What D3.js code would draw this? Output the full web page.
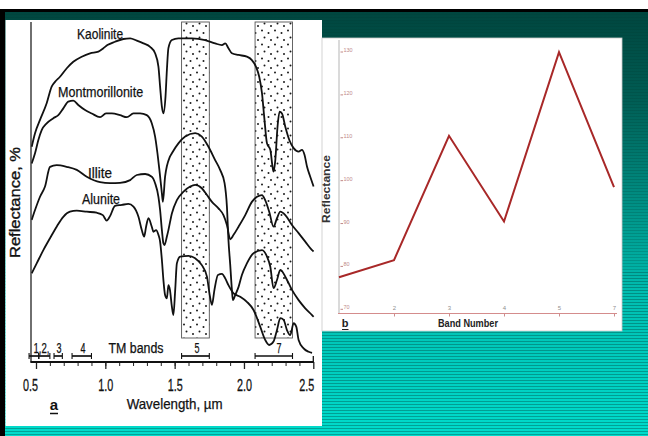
<!DOCTYPE html>
<html>
<head>
<meta charset="utf-8">
<script src="https://cdn.jsdelivr.net/npm/d3@7"></script>
<style>
html, body { margin: 0; padding: 0; background: #fff; }
svg { display: block; }
</style>
</head>
<body>
<div id="chart"></div>
<script>
// spectra: [wavelength in um, relative reflectance]
const kaolinite = [
  [0.469, 63.3], [0.493, 67.3], [0.529, 71.2], [0.577, 76.1], [0.613, 81.0], [0.637, 82.4],
  [0.673, 83.9], [0.722, 86.4], [0.769, 88.3], [0.830, 89.8], [0.890, 90.8], [0.950, 91.3],
  [0.986, 92.3], [1.015, 93.2], [1.070, 94.2], [1.130, 95.0], [1.179, 95.2], [1.227, 94.5],
  [1.275, 93.7], [1.323, 92.7], [1.359, 90.8], [1.383, 86.9], [1.395, 81.0], [1.408, 75.1],
  [1.419, 73.1], [1.434, 78.0], [1.444, 85.9], [1.455, 92.3], [1.480, 94.7], [1.527, 95.2],
  [1.624, 95.2], [1.720, 94.7], [1.792, 93.7], [1.841, 93.2], [1.865, 93.7], [1.888, 92.3],
  [1.913, 90.8], [1.961, 90.3], [2.021, 89.8], [2.057, 88.8], [2.086, 86.9], [2.110, 83.9],
  [2.130, 79.0], [2.146, 72.1], [2.166, 64.3], [2.190, 62.4], [2.206, 57.4], [2.213, 56.0],
  [2.226, 59.4], [2.242, 69.2], [2.257, 73.6], [2.274, 73.1], [2.298, 69.2], [2.327, 65.3],
  [2.358, 62.9], [2.394, 61.9], [2.418, 62.4], [2.437, 60.9], [2.455, 57.4], [2.478, 54.5],
  [2.502, 51.6]
];
const montmorillonite = [
  [0.469, 58.4], [0.493, 61.4], [0.517, 65.3], [0.541, 68.2], [0.577, 70.2], [0.625, 71.7],
  [0.661, 72.6], [0.697, 74.6], [0.733, 76.6], [0.769, 76.9], [0.805, 75.6], [0.854, 74.1],
  [0.902, 73.1], [0.962, 72.0], [1.005, 73.1], [1.047, 73.1], [1.106, 72.6], [1.155, 72.0],
  [1.203, 73.1], [1.251, 73.1], [1.299, 72.6], [1.335, 70.2], [1.359, 66.3], [1.376, 61.4],
  [1.390, 56.5], [1.408, 49.6], [1.415, 47.1], [1.431, 54.5], [1.466, 60.4], [1.480, 61.4],
  [1.527, 64.3], [1.576, 66.3], [1.648, 67.3], [1.696, 66.3], [1.744, 63.3], [1.792, 59.4],
  [1.828, 56.5], [1.860, 52.6], [1.877, 45.7], [1.888, 35.9], [1.901, 28.5], [1.913, 21.2],
  [1.920, 18.2], [1.937, 19.7], [1.961, 22.1], [1.985, 25.6], [2.021, 29.0], [2.069, 32.0],
  [2.130, 32.9], [2.166, 31.0], [2.190, 28.0], [2.213, 21.7], [2.238, 24.1], [2.262, 27.1],
  [2.298, 25.1], [2.346, 21.2], [2.394, 18.2], [2.442, 15.8], [2.491, 13.8], [2.502, 13.3]
];
const illite = [
  [0.469, 41.8], [0.493, 44.7], [0.529, 48.6], [0.565, 51.6], [0.601, 57.4], [0.649, 57.9],
  [0.722, 57.4], [0.794, 56.5], [0.866, 54.5], [0.962, 52.9], [1.034, 52.6], [1.106, 52.7],
  [1.179, 53.5], [1.227, 55.0], [1.287, 55.3], [1.335, 54.5], [1.359, 52.6], [1.383, 48.6],
  [1.395, 44.7], [1.408, 38.8], [1.419, 34.9], [1.427, 34.4], [1.444, 36.9], [1.455, 38.8],
  [1.480, 43.7], [1.516, 47.6], [1.564, 50.1], [1.612, 51.6], [1.648, 52.1], [1.696, 51.1],
  [1.733, 49.1], [1.769, 47.1], [1.816, 45.2], [1.852, 43.2], [1.877, 40.3], [1.901, 36.1],
  [1.925, 37.4], [1.961, 39.8], [2.009, 43.2], [2.057, 47.1], [2.094, 48.6], [2.130, 49.1],
  [2.153, 47.6], [2.182, 44.2], [2.213, 39.8], [2.238, 42.3], [2.262, 44.2], [2.298, 43.2],
  [2.346, 40.3], [2.394, 37.9], [2.442, 35.4], [2.491, 32.9], [2.502, 32.5]
];
const alunite = [
  [0.469, 26.1], [0.505, 29.0], [0.553, 32.9], [0.601, 36.4], [0.649, 39.8], [0.697, 42.7],
  [0.745, 44.2], [0.794, 44.5], [0.866, 44.2], [0.938, 43.9], [0.982, 43.2], [1.010, 41.6],
  [1.034, 42.9], [1.070, 45.9], [1.119, 46.2], [1.166, 46.5], [1.203, 45.7], [1.239, 42.7],
  [1.263, 38.8], [1.280, 36.9], [1.294, 39.8], [1.311, 42.3], [1.335, 39.8], [1.347, 38.3],
  [1.366, 38.8], [1.383, 37.4], [1.395, 35.4], [1.408, 30.0], [1.419, 24.1], [1.431, 19.7],
  [1.444, 18.7], [1.455, 22.6], [1.466, 21.2], [1.480, 16.3], [1.491, 13.8], [1.504, 21.2],
  [1.516, 29.0], [1.540, 31.0], [1.600, 31.2], [1.648, 30.5], [1.696, 28.5], [1.733, 25.1],
  [1.751, 20.2], [1.769, 16.8], [1.787, 21.2], [1.812, 25.6], [1.841, 25.9], [1.865, 24.6],
  [1.888, 22.6], [1.925, 20.2], [1.973, 19.2], [2.021, 17.7], [2.069, 15.3], [2.117, 10.4],
  [2.153, 6.5], [2.182, 5.0], [2.213, 6.0], [2.238, 9.4], [2.262, 12.9], [2.286, 12.4],
  [2.310, 9.4], [2.334, 7.9], [2.358, 11.4], [2.377, 10.4], [2.394, 6.5], [2.430, 4.0],
  [2.466, 3.0], [2.491, 2.7]
];
const mineralNames = ["Kaolinite", "Montmorillonite", "Illite", "Alunite"];

// Landsat TM bands (um)
const tmBands = [[0.45, 0.52], [0.52, 0.60], [0.63, 0.69], [0.76, 0.90], [1.55, 1.75], [2.08, 2.35]];
const tmLabels = ["1,2,", "3", "4", "TM bands", "5", "7"];
const wlTicks = [0.5, 1.0, 1.5, 2.0, 2.5];

// right chart: reflectance per band
const bandNames = ["1", "2", "3", "4", "5", "7"];
const bandReflectance = [77, 81, 110, 90, 129.5, 98];
const reflTicks = [70, 80, 90, 100, 110, 120, 130];

const W = 648, H = 436;
const font = "'Liberation Sans', Arial, sans-serif";
const svg = d3.select("#chart").append("svg")
  .attr("width", W).attr("height", H)
  .style("font-family", font);

// ---- slide background ----
const defs = svg.append("defs");
const grad = defs.append("linearGradient").attr("id", "bg")
  .attr("x1", 0).attr("y1", 0).attr("x2", 0).attr("y2", 1);
[[0, "#00463f"], [0.2, "#005c53"], [0.45, "#008f84"], [0.66, "#00bdb0"], [1, "#00dccc"]]
  .forEach(s => grad.append("stop").attr("offset", s[0]).attr("stop-color", s[1]));

svg.append("rect").attr("width", W).attr("height", H).attr("fill", "#fff");
svg.append("rect").attr("x", 0).attr("y", 12).attr("width", W).attr("height", H - 12).attr("fill", "url(#bg)");
svg.append("g").selectAll("line")
  .data(d3.range(14, H, 3))
  .join("line")
  .attr("x1", 0).attr("x2", W)
  .attr("y1", d => d + 0.5).attr("y2", d => d + 0.5)
  .attr("stroke", "#003a34").attr("stroke-opacity", d => d > 270 ? 0.35 : 0.2);
svg.append("rect").attr("x", 0).attr("y", 9).attr("width", W).attr("height", 3).attr("fill", "#000");
svg.append("rect").attr("x", 0).attr("y", 9).attr("width", 5).attr("height", H - 9).attr("fill", "#000");

// ---- left panel: spectra ----
svg.append("rect").attr("x", 5.5).attr("y", 20).attr("width", 316.5).attr("height", 406).attr("fill", "#fff");

const xS = d3.scaleLinear().domain([0.5, 2.5]).range([36, 313.3]);
const yS = d3.scaleLinear().domain([0, 100]).range([362, 22]);

// stipple for bands 5 and 7
const pat = defs.append("pattern").attr("id", "dots")
  .attr("patternUnits", "userSpaceOnUse").attr("width", 13).attr("height", 14);
[[2, 2.5], [8.5, 5], [4.5, 9.5], [11, 12]].forEach(p =>
  pat.append("circle").attr("cx", p[0]).attr("cy", p[1]).attr("r", 1.0).attr("fill", "#1a1a1a"));

const stippled = [tmBands[4], tmBands[5]];
svg.append("g").selectAll("rect")
  .data(stippled)
  .join("rect")
  .attr("x", d => xS(d[0])).attr("width", d => xS(d[1]) - xS(d[0]))
  .attr("y", 22).attr("height", 316)
  .attr("fill", "url(#dots)")
  .attr("stroke", "#555").attr("stroke-width", 0.9);

const line = d3.line().x(d => xS(d[0])).y(d => yS(d[1])).curve(d3.curveMonotoneX);
svg.append("g").selectAll("path")
  .data([kaolinite, montmorillonite, illite, alunite])
  .join("path")
  .attr("d", line)
  .attr("fill", "none").attr("stroke", "#111").attr("stroke-width", 1.8)
  .attr("stroke-linejoin", "round");

// mineral names
const nameSpots = [[0.962, 95.0, 46], [0.966, 77.9, 85], [0.962, 54.1, 24], [0.969, 46.5, 38]];
svg.append("g").selectAll("text")
  .data(mineralNames)
  .join("text")
  .attr("x", (d, i) => xS(nameSpots[i][0]))
  .attr("y", (d, i) => yS(nameSpots[i][1]))
  .attr("text-anchor", "middle")
  .attr("font-size", 14)
  .attr("textLength", (d, i) => nameSpots[i][2])
  .attr("lengthAdjust", "spacingAndGlyphs")
  .attr("fill", "#111").attr("stroke", "#111").attr("stroke-width", 0.25)
  .text(d => d);

// frame axes
svg.append("line").attr("x1", 31).attr("x2", 31).attr("y1", 22).attr("y2", 362.5)
  .attr("stroke", "#222").attr("stroke-width", 1.3);

const axMinor = d3.axisBottom(xS)
  .tickValues(d3.range(6, 25).map(v => v / 10))
  .tickSize(4).tickFormat("");
svg.append("g").attr("transform", "translate(0,362)").call(axMinor)
  .call(g => g.select(".domain").remove())
  .call(g => g.selectAll("line").attr("stroke", "#222").attr("stroke-width", 1));

const axMajor = d3.axisBottom(xS)
  .tickValues(wlTicks).tickSize(7).tickPadding(10)
  .tickFormat(d3.format(".1f"));
svg.append("g").attr("transform", "translate(0,362)").call(axMajor)
  .call(g => g.select(".domain").remove())
  .call(g => g.selectAll("line").attr("stroke", "#222").attr("stroke-width", 1.3))
  .call(g => g.selectAll("text")
    .attr("font-size", 16.5).attr("fill", "#111").attr("stroke", "#111").attr("stroke-width", 0.3)
    .attr("font-family", font)
    .attr("textLength", 15).attr("lengthAdjust", "spacingAndGlyphs")
    .attr("dx", d => d === 0.5 ? -6 : d === 2.5 ? -7 : 0));
svg.append("line").attr("x1", 30.5).attr("x2", 313.8).attr("y1", 362).attr("y2", 362)
  .attr("stroke", "#111").attr("stroke-width", 1.8);
svg.append("line").attr("x1", xS(2.5)).attr("x2", xS(2.5)).attr("y1", 356).attr("y2", 362)
  .attr("stroke", "#111").attr("stroke-width", 1.3);

// TM band bars
const barY = 356;
const barG = svg.append("g").attr("stroke", "#111").attr("stroke-width", 1.7);
const bars = [[tmBands[0][0], tmBands[1][1]], tmBands[2], tmBands[3], tmBands[4], tmBands[5]];
barG.selectAll("line.bar").data(bars).join("line").attr("class", "bar")
  .attr("x1", d => xS(d[0])).attr("x2", d => xS(d[1]))
  .attr("y1", barY).attr("y2", barY);
barG.selectAll("line.cap").data(tmBands.flat()).join("line").attr("class", "cap")
  .attr("x1", d => xS(d)).attr("x2", d => xS(d))
  .attr("y1", barY - 3).attr("y2", barY + 3).attr("stroke-width", 1.1);

const tmLabelAt = [0.540, 0.666, 0.839, 1.221, 1.661, 2.253];
const tmLabelW = [16, 5, 5, 55, 5, 5];
svg.append("g").selectAll("text")
  .data(tmLabels)
  .join("text")
  .attr("x", (d, i) => xS(tmLabelAt[i]))
  .attr("y", 353)
  .attr("text-anchor", "middle")
  .attr("font-size", 14)
  .attr("textLength", (d, i) => tmLabelW[i])
  .attr("lengthAdjust", "spacingAndGlyphs")
  .attr("fill", "#111").attr("stroke", "#111").attr("stroke-width", 0.25)
  .text(d => d);

// axis titles
svg.append("text")
  .attr("x", xS(1.5)).attr("y", 409)
  .attr("text-anchor", "middle").attr("font-size", 14.5)
  .attr("textLength", 96).attr("lengthAdjust", "spacingAndGlyphs")
  .attr("fill", "#111").attr("stroke", "#111").attr("stroke-width", 0.25)
  .text("Wavelength, \u00b5m");
svg.append("text")
  .attr("transform", "translate(20,202.5) rotate(-90)")
  .attr("text-anchor", "middle").attr("font-size", 14.5)
  .attr("textLength", 111).attr("lengthAdjust", "spacingAndGlyphs")
  .attr("fill", "#111").attr("stroke", "#111").attr("stroke-width", 0.35)
  .text("Reflectance, %");
svg.append("text")
  .attr("x", 54).attr("y", 410)
  .attr("text-anchor", "middle").attr("font-size", 15).attr("font-weight", "bold")
  .attr("fill", "#111")
  .text("a");
svg.append("line").attr("x1", 50).attr("x2", 58).attr("y1", 413.5).attr("y2", 413.5)
  .attr("stroke", "#111").attr("stroke-width", 1.5);

// ---- right panel: band reflectance ----
svg.append("rect").attr("x", 322).attr("y", 38).attr("width", 300).attr("height", 293)
  .attr("fill", "#fff").attr("stroke", "#c8c8c8").attr("stroke-width", 0.8);

const xB = d3.scalePoint().domain(bandNames).range([339, 614]);
const yB = d3.scaleLinear().domain([70, 130]).range([307.3, 50]);

svg.append("line").attr("x1", 339).attr("x2", 339).attr("y1", 40).attr("y2", 313.5)
  .attr("stroke", "#b5b5b5").attr("stroke-width", 1);

// y tick labels with small dashes
const yt = svg.append("g");
yt.selectAll("line").data(reflTicks).join("line")
  .attr("x1", 340.5).attr("x2", 343).attr("y1", d => yB(d) + 2).attr("y2", d => yB(d) + 2)
  .attr("stroke", "#b06a6a").attr("stroke-width", 0.8);
yt.selectAll("text").data(reflTicks).join("text")
  .attr("x", 343.5).attr("y", d => yB(d) + 2)
  .attr("font-size", 5.5).attr("fill", "#c08a8a")
  .text(d => d);

// x axis
const axB = d3.axisBottom(xB).tickValues(bandNames.slice(1)).tickSize(3).tickPadding(-11);
svg.append("g").attr("transform", "translate(0,313.5)").call(axB)
  .call(g => g.select(".domain").remove())
  .call(g => g.selectAll("line").attr("stroke", "#c07070").attr("stroke-width", 0.8))
  .call(g => g.selectAll("text").attr("font-size", 6).attr("fill", "#909090")
    .attr("font-family", font));
svg.append("line").attr("x1", 338).attr("x2", 617).attr("y1", 313.5).attr("y2", 313.5)
  .attr("stroke", "#d48c8c").attr("stroke-width", 1);

// the red line
svg.append("path")
  .datum(bandNames.map((b, i) => [b, bandReflectance[i]]))
  .attr("d", d3.line().x(d => xB(d[0])).y(d => yB(d[1])))
  .attr("fill", "none").attr("stroke", "#a82828").attr("stroke-width", 2)
  .attr("stroke-linejoin", "miter");

svg.append("text")
  .attr("transform", "translate(330,189) rotate(-90)")
  .attr("text-anchor", "middle").attr("font-size", 11.5).attr("font-weight", "bold")
  .attr("textLength", 68).attr("lengthAdjust", "spacingAndGlyphs")
  .attr("fill", "#333")
  .text("Reflectance");
svg.append("text")
  .attr("x", 468).attr("y", 327)
  .attr("text-anchor", "middle").attr("font-size", 11.5).attr("font-weight", "bold")
  .attr("textLength", 60).attr("lengthAdjust", "spacingAndGlyphs")
  .attr("fill", "#222")
  .text("Band Number");
svg.append("text")
  .attr("x", 345).attr("y", 327)
  .attr("text-anchor", "middle").attr("font-size", 11).attr("font-weight", "bold")
  .attr("fill", "#222")
  .text("b");
svg.append("line").attr("x1", 342).attr("x2", 348.5).attr("y1", 329.5).attr("y2", 329.5)
  .attr("stroke", "#222").attr("stroke-width", 1);
</script>
</body>
</html>
